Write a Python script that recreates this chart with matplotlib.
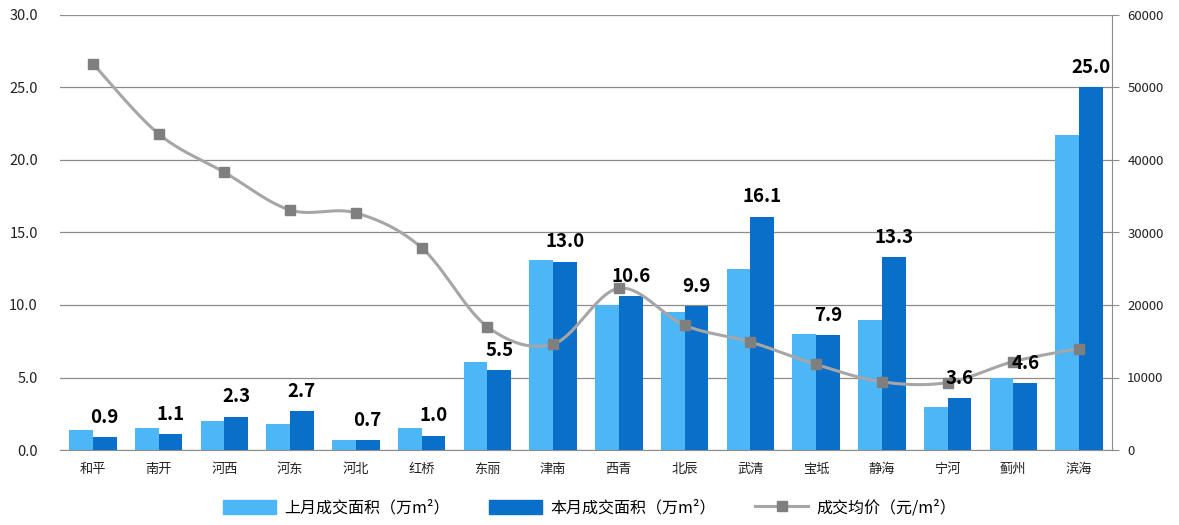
import numpy as np
import matplotlib
matplotlib.use("Agg")
import matplotlib.pyplot as plt
from matplotlib.lines import Line2D
from matplotlib.patches import Patch

plt.rcParams['font.family'] = ['Noto Sans CJK SC', 'DejaVu Sans']

districts = ["和平", "南开", "河西", "河东", "河北", "红桥", "东丽", "津南",
             "西青", "北辰", "武清", "宝坻", "静海", "宁河", "蓟州", "滨海"]
last_month = [1.4, 1.5, 2.0, 1.8, 0.7, 1.5, 6.1, 13.1, 10.0, 9.5, 12.5, 8.0, 9.0, 3.0, 5.0, 21.7]
this_month = [0.9, 1.1, 2.3, 2.7, 0.7, 1.0, 5.5, 13.0, 10.6, 9.9, 16.1, 7.9, 13.3, 3.6, 4.6, 25.0]
avg_price = [53300, 43600, 38300, 33100, 32700, 27900, 17000, 14600,
             22300, 17200, 14900, 11800, 9400, 9300, 12200, 14000]
left_ticks = [0, 5, 10, 15, 20, 25, 30]
right_ticks = [0, 10000, 20000, 30000, 40000, 50000, 60000]

c_light, c_dark = "#4DB6F7", "#0A6FC8"
c_line, c_mark = "#A6A6A6", "#7F7F7F"

def smooth(xs, ys, n=30):
    # Catmull-Rom, like Excel's smoothed line
    p = np.column_stack([xs, ys]).astype(float)
    p = np.vstack([p[0], p, p[-1]])
    out = []
    for i in range(1, len(p) - 2):
        p0, p1, p2, p3 = p[i - 1], p[i], p[i + 1], p[i + 2]
        t = np.linspace(0, 1, n)[:, None]
        seg = 0.5 * ((2 * p1) + (-p0 + p2) * t + (2 * p0 - 5 * p1 + 4 * p2 - p3) * t**2
                     + (-p0 + 3 * p1 - 3 * p2 + p3) * t**3)
        out.append(seg)
    out = np.vstack(out)
    return out[:, 0], out[:, 1]

fig = plt.figure(figsize=(11.79, 5.25), dpi=100)
ax = fig.add_axes([60 / 1179, 75 / 525, 1052 / 1179, 435 / 525])
x = np.arange(len(districts))
w = 0.36
ax.bar(x - w / 2, last_month, w, color=c_light, zorder=2)
ax.bar(x + w / 2, this_month, w, color=c_dark, zorder=2)
ax.set_xlim(-0.5, len(districts) - 0.5)
ax.set_ylim(0, 30)
ax.set_yticks(left_ticks)
ax.set_yticklabels([f"{v:.1f}" for v in left_ticks], fontsize=10.5, color="#222222")
ax.set_xticks(x)
ax.set_xticklabels(districts, fontsize=9.5, color="#222222")
ax.tick_params(axis="y", length=0, pad=16)
ax.tick_params(axis="x", length=0, pad=9)
ax.yaxis.grid(True, color="#8C8C8C", lw=0.9, zorder=0)
ax.set_axisbelow(True)
for s in ["left", "top", "right"]:
    ax.spines[s].set_visible(False)
ax.spines["bottom"].set_color("#8C8C8C")

ax2 = ax.twinx()
ax2.set_ylim(0, 60000)
ax2.set_yticks(right_ticks)
ax2.set_yticklabels([str(v) for v in right_ticks], fontsize=9.5, color="#222222")
ax2.tick_params(axis="y", length=5, color="#8C8C8C", pad=6)
for s in ["left", "top", "bottom"]:
    ax2.spines[s].set_visible(False)
ax2.spines["right"].set_color("#8C8C8C")
sx, sy = smooth(x, avg_price)
ax2.plot(sx, sy, color=c_line, lw=2.2, zorder=3)
ax2.plot(x, avg_price, ls="none", marker="s", ms=7, color=c_mark, zorder=4)

for xi, v in zip(x, this_month):
    ax2.text(xi + w / 2, v * 2000 + 1400, f"{v:.1f}", ha="center", va="bottom",
             fontsize=13.5, fontweight="bold", color="black", zorder=5)

handles = [Patch(color=c_light), Patch(color=c_dark),
           Line2D([], [], color=c_line, lw=2.2, marker="s", ms=7, mfc=c_mark, mec=c_mark)]
labels = ["上月成交面积（万m²）", "本月成交面积（万m²）", "成交均价（元/m²）"]
fig.legend(handles, labels, loc="center", bbox_to_anchor=(0.5, 1 - 508 / 525), ncol=3,
           frameon=False, fontsize=11.5, columnspacing=2.5, handlelength=3.3,
           handleheight=0.9, handletextpad=0.5)

fig.savefig("out.png", dpi=100)
